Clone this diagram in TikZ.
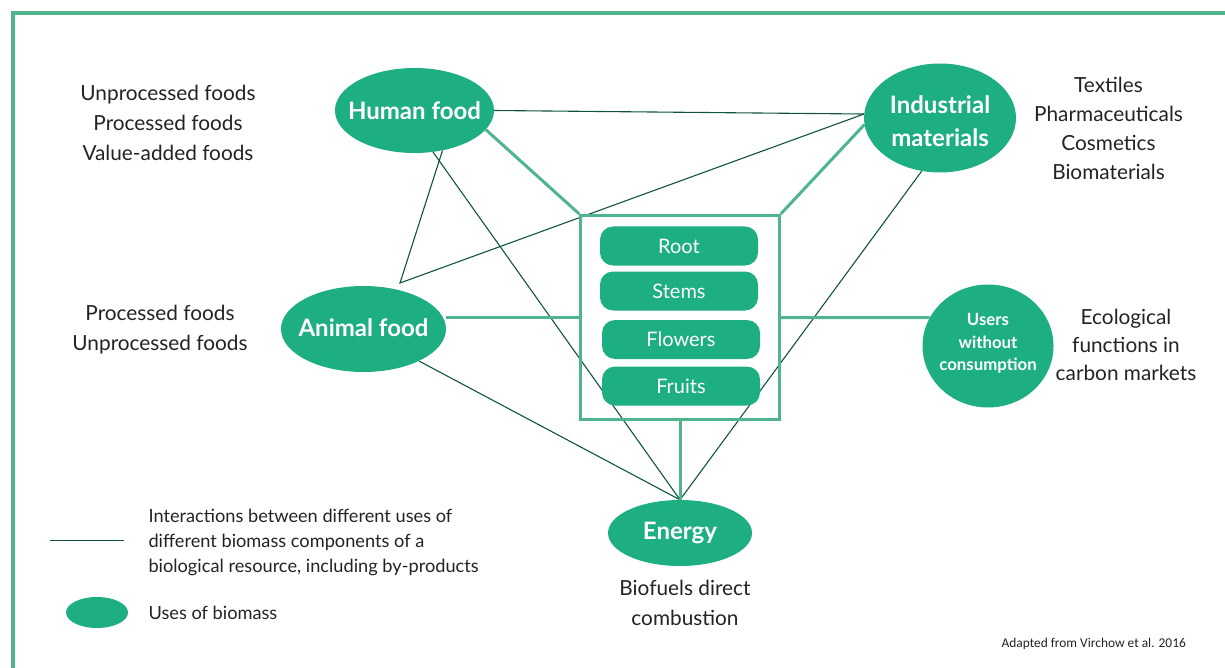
\documentclass[tikz,border=0pt]{standalone}
\usepackage{fontspec}
\setmainfont{Lato}
\newfontfamily\notefont{Carlito}
\usetikzlibrary{shapes.geometric,backgrounds}

\definecolor{usegreen}{RGB}{29,174,129}
\definecolor{framegreen}{RGB}{78,181,141}
\definecolor{linkgreen}{RGB}{16,84,62}
\definecolor{textgray}{RGB}{35,35,35}

\begin{document}
\begin{tikzpicture}[x=1pt, y=-1pt,
        biomass/.style={ellipse, fill=usegreen, inner sep=0pt},
        usetext/.style={text=white, align=center, font=\bfseries\fontsize{24}{32.7}\selectfont},
        component/.style={rectangle, rounded corners=13pt, fill=usegreen, text=white, minimum width=158pt, minimum height=39pt, inner sep=0pt, font=\fontsize{20}{24}\selectfont},
        usenote/.style={text=textgray, align=center, font=\fontsize{20.8}{30}\selectfont},
        feedline/.style={framegreen, line width=3pt},
        crossline/.style={linkgreen, line width=1.1pt}]
    \useasboundingbox (0,0) rectangle (1225,668);
    \draw[framegreen, line width=4pt] (1225,13) -- (13,13) -- (13,670);

    % uses of biomass
    \node[biomass, minimum width=159pt, minimum height=85pt, label={[usetext]center:Human food}] (human) at (414.5,110.5) {};
    \node[biomass, minimum width=152pt, minimum height=109pt, label={[usetext, yshift=-3pt]center:Industrial\\materials}] (industry) at (940,118) {};
    \node[biomass, minimum width=165pt, minimum height=86pt, label={[usetext, yshift=1pt]center:Animal food}] (animal) at (363.5,329) {};
    \node[biomass, minimum width=131pt, minimum height=123pt, label={[usetext, yshift=2.5pt, font=\bfseries\fontsize{16.8}{22.6}\selectfont]center:Users\\without\\consumption}] (users) at (988,346) {};
    \node[biomass, minimum width=144pt, minimum height=66pt, label={[usetext]center:Energy}] (energy) at (680,533) {};

    % plant parts
    \node[draw=framegreen, line width=3pt, minimum width=198.5pt, minimum height=204.5pt, inner sep=0pt] (plant) at (680,317.7) {};
    \node[component] (root) at (679,246) {Root};
    \node[component] (stems) at (679,291) {Stems};
    \node[component] (flowers) at (681,339.5) {Flowers};
    \node[component] (fruits) at (681,386) {Fruits};

    % products
    \node[usenote] (humanuses) at (168,123) {Unprocessed foods\\Processed foods\\Value-added foods};
    \node[usenote] (animaluses) at (160,330) {Processed foods\\Unprocessed foods};
    \node[usenote, font=\fontsize{20.8}{29}\selectfont] (industryuses) at (1108.5,128.5) {Textiles\\Pharmaceuticals\\Cosmetics\\Biomaterials};
    \node[usenote, font=\fontsize{20.8}{28}\selectfont] (ecouses) at (1126,345) {Ecological\\functions in\\carbon markets};
    \node[usenote] (energyuses) at (685,603) {Biofuels direct\\combustion};

    \coordinate (fork) at (400,283);
    \begin{scope}[on background layer]
        \draw[crossline] (human.east) -- (industry.177);
        \draw[crossline] (human.305) -- (fork) -- (industry.177);
        \draw[crossline] (human.294) -- (energy.north);
        \draw[crossline] (animal.330) -- (energy.north);
        \draw[crossline] (industry.251) -- (energy.north);
        \draw[feedline] (human.345) -- (plant.north west);
        \draw[feedline] (industry.185) -- (plant.north east);
        \draw[feedline] (plant.west) -- (plant.west -| animal.east);
        \draw[feedline] (plant.east) -- (users.154);
        \draw[feedline] (plant.south) -- (energy.north);
    \end{scope}

    % key
    \coordinate (keystart) at (50,540);
    \coordinate (keyend) at (124,540);
    \draw[crossline, line width=0.9pt] (keystart) -- (keyend);
    \node[usenote, anchor=west, align=left, font=\fontsize{18.2}{25}\selectfont] (keylinetext) at (145,542) {Interactions between different uses of\\different biomass components of a\\biological resource, including by-products};
    \node[biomass, minimum width=62pt, minimum height=31pt] (keyuse) at (97,612.5) {};
    \node[usenote, anchor=west, font=\fontsize{18.2}{25}\selectfont] (keyusetext) at (145,613) {Uses of biomass};
    \node[text=textgray, font=\notefont\fontsize{13.4}{15}\selectfont] (source) at (1093.7,644) {Adapted from Virchow et al. 2016};
    %\node[usenote] at (612,20) {};
\end{tikzpicture}
\end{document}
